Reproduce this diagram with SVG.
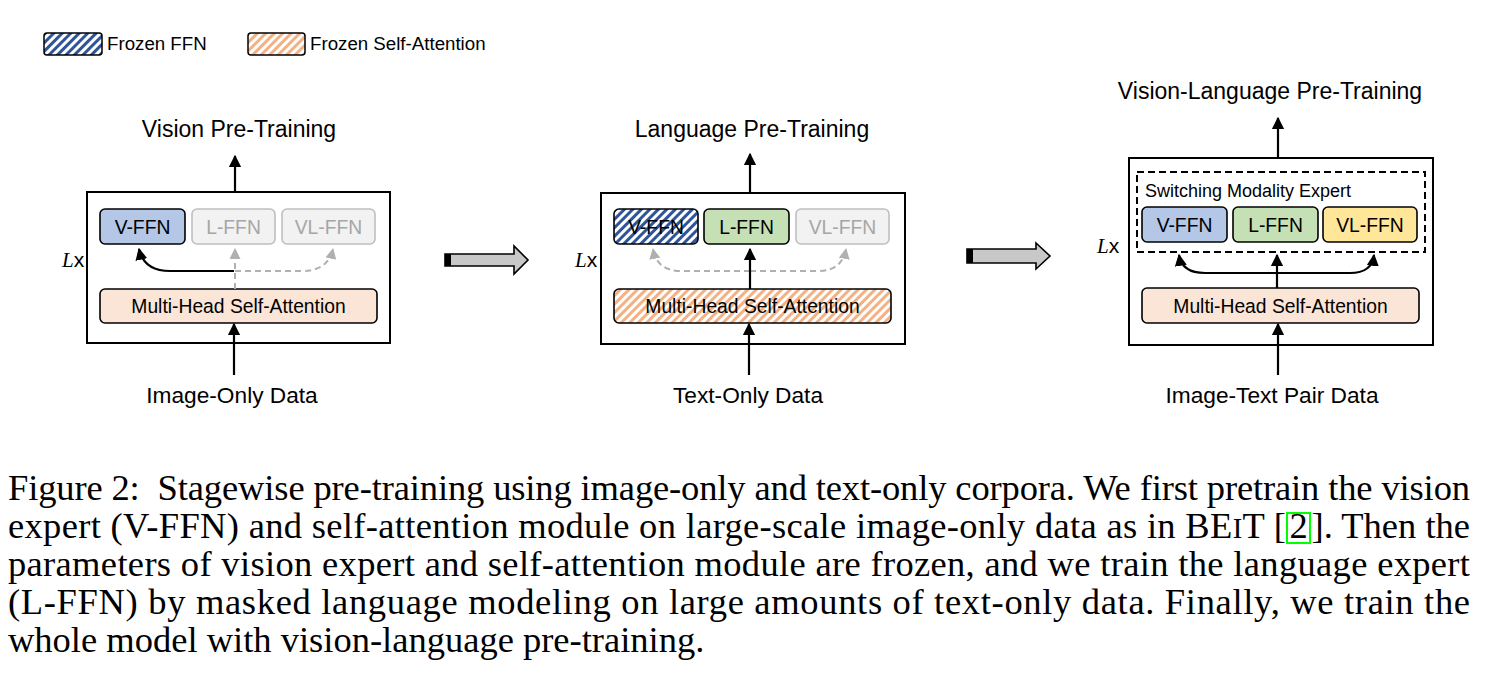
<svg xmlns="http://www.w3.org/2000/svg" width="1489" height="688" viewBox="0 0 1489 688">
<style>
.sans{font-family:"Liberation Sans",Arial,sans-serif}
.serif{font-family:"Liberation Serif","Times New Roman",serif}
.title{font-family:"Liberation Sans",Arial,sans-serif;font-size:23px;fill:#000;text-anchor:middle}
.data{font-family:"Liberation Sans",Arial,sans-serif;font-size:22.7px;fill:#000;text-anchor:middle}
.lbl{font-family:"Liberation Sans",Arial,sans-serif;font-size:19.3px;fill:#000;text-anchor:middle}
.glbl{font-family:"Liberation Sans",Arial,sans-serif;font-size:19.3px;fill:#a6a6a6;text-anchor:middle}
.outer{fill:#fff;stroke:#000;stroke-width:2}
.box{stroke:#000;stroke-width:1.6}
.gbox{fill:#f2f2f2;stroke:#bfbfbf;stroke-width:1.6}
.v{fill:#b4c7e7}.l{fill:#c5e0b4}.vl{fill:#ffe699}.att{fill:#fbe5d6}
.blk{fill:none;stroke:#000;stroke-width:2.2}
.gry{fill:none;stroke:#b0b0b0;stroke-width:2;stroke-dasharray:6,4}
.cap{font-family:"Liberation Serif","Times New Roman",serif;font-size:36.5px;fill:#000}
</style>
<defs>
<pattern id="hBlue" patternUnits="userSpaceOnUse" width="6" height="6" patternTransform="rotate(45)">
<rect width="6" height="6" fill="#fff"/><rect width="3" height="6" fill="#2f5597"/>
</pattern>
<pattern id="hOrange" patternUnits="userSpaceOnUse" width="6" height="6" patternTransform="rotate(45)">
<rect width="6" height="6" fill="#fff"/><rect width="3" height="6" fill="#f4b183"/>
</pattern>
<marker id="ab" viewBox="0 0 10 10" refX="9" refY="5" markerWidth="5.5" markerHeight="5.5" orient="auto" markerUnits="strokeWidth">
<path d="M0,0 L10,5 L0,10 z" fill="#000"/>
</marker>
<marker id="ag" viewBox="0 0 10 10" refX="9" refY="5" markerWidth="5.5" markerHeight="5.5" orient="auto" markerUnits="strokeWidth">
<path d="M0,0 L10,5 L0,10 z" fill="#b0b0b0"/>
</marker>
</defs>

<g id="legend">
<rect x="44" y="33" width="58" height="22" rx="3" fill="url(#hBlue)" stroke="#000" stroke-width="1.5"/>
<text x="107" y="50" class="sans" font-size="18.7">Frozen FFN</text>
<rect x="248" y="33" width="57" height="22" rx="3" fill="url(#hOrange)" stroke="#000" stroke-width="1.5"/>
<text x="310" y="50" class="sans" font-size="18.7">Frozen Self-Attention</text>
</g>

<!-- Panel 1 -->
<g id="panel1">
<text x="239" y="137" class="title">Vision Pre-Training</text>
<rect class="outer" x="87" y="192" width="303" height="151"/>
<text x="62" y="267" font-size="21"><tspan class="serif" font-style="italic">L</tspan><tspan class="sans">x</tspan></text>
<g id="p1-vffn"><rect class="box v" x="100" y="209" width="85" height="35" rx="5"/><text class="lbl" x="142.5" y="233.5">V-FFN</text></g>
<g id="p1-lffn"><rect class="gbox" x="192" y="209" width="83" height="35" rx="5"/><text class="glbl" x="233.5" y="233.5">L-FFN</text></g>
<g id="p1-vlffn"><rect class="gbox" x="282" y="209" width="93" height="35" rx="5"/><text class="glbl" x="328.5" y="233.5">VL-FFN</text></g>
<g id="p1-att"><rect class="box att" x="100" y="289" width="277" height="34" rx="5"/><text class="lbl" x="238.5" y="313">Multi-Head Self-Attention</text></g>
<text x="232" y="403" class="data">Image-Only Data</text>
</g>

<!-- Panel 2 -->
<g id="panel2">
<text x="752" y="137" class="title">Language Pre-Training</text>
<rect class="outer" x="601" y="193" width="304" height="151"/>
<text x="575" y="267" font-size="21"><tspan class="serif" font-style="italic">L</tspan><tspan class="sans">x</tspan></text>
<g id="p2-vffn"><rect class="box" fill="url(#hBlue)" x="614" y="209" width="84" height="35" rx="5"/><text class="lbl" x="656" y="233.5">V-FFN</text></g>
<g id="p2-lffn"><rect class="box l" x="704" y="209" width="85" height="35" rx="5"/><text class="lbl" x="746.5" y="233.5">L-FFN</text></g>
<g id="p2-vlffn"><rect class="gbox" x="796" y="209" width="93" height="35" rx="5"/><text class="glbl" x="842.5" y="233.5">VL-FFN</text></g>
<g id="p2-att"><rect class="box" fill="url(#hOrange)" x="614" y="289" width="277" height="34" rx="5"/><text class="lbl" x="752.5" y="313">Multi-Head Self-Attention</text></g>
<text x="748" y="403" class="data">Text-Only Data</text>
</g>

<!-- Panel 3 -->
<g id="panel3">
<text x="1270" y="99" class="title">Vision-Language Pre-Training</text>
<rect class="outer" x="1129" y="158" width="304" height="187"/>
<rect x="1137" y="172" width="288" height="80" fill="none" stroke="#000" stroke-width="2" stroke-dasharray="7,4"/>
<text x="1145" y="197" class="sans" font-size="18">Switching Modality Expert</text>
<text x="1097" y="253" font-size="21"><tspan class="serif" font-style="italic">L</tspan><tspan class="sans">x</tspan></text>
<g id="p3-vffn"><rect class="box v" x="1142" y="207" width="85" height="35" rx="5"/><text class="lbl" x="1184.5" y="231.5">V-FFN</text></g>
<g id="p3-lffn"><rect class="box l" x="1233" y="207" width="85" height="35" rx="5"/><text class="lbl" x="1275.5" y="231.5">L-FFN</text></g>
<g id="p3-vlffn"><rect class="box vl" x="1323" y="207" width="94" height="35" rx="5"/><text class="lbl" x="1370" y="231.5">VL-FFN</text></g>
<g id="p3-att"><rect class="box att" x="1142" y="288" width="277" height="35" rx="5"/><text class="lbl" x="1280.5" y="312.5">Multi-Head Self-Attention</text></g>
<text x="1272" y="403" class="data">Image-Text Pair Data</text>
</g>

<g id="connectors">
<!-- panel 1 -->
<path class="blk" d="M235,192 V156" marker-end="url(#ab)"/>
<path class="blk" d="M234,375 V324" marker-end="url(#ab)"/>
<path class="gry" d="M235,289 V249" marker-end="url(#ag)"/>
<path class="gry" d="M235,271 H302 Q328,271 333,249" marker-end="url(#ag)"/>
<path class="blk" d="M234,271 H170 Q144,271 139,249" marker-end="url(#ab)"/>
<!-- panel 2 -->
<path class="blk" d="M750,193 V154" marker-end="url(#ab)"/>
<path class="blk" d="M749,375 V324" marker-end="url(#ab)"/>
<path class="gry" d="M750,271 H681 Q657,271 653,249" marker-end="url(#ag)"/>
<path class="gry" d="M750,271 H818 Q842,271 846,249" marker-end="url(#ag)"/>
<path class="blk" d="M750,289 V249" marker-end="url(#ab)"/>
<!-- panel 3 -->
<path class="blk" d="M1278,158 V118" marker-end="url(#ab)"/>
<path class="blk" d="M1278,375 V324" marker-end="url(#ab)"/>
<path class="blk" d="M1277,288 V255" marker-end="url(#ab)"/>
<path class="blk" d="M1277,273 H1205 Q1182,273 1179,255" marker-end="url(#ab)"/>
<path class="blk" d="M1277,273 H1350 Q1372,273 1374,255" marker-end="url(#ab)"/>
<!-- stage arrows -->
<g id="stage-arrow-1">
<path d="M445,254 H514 V246 L528,260 L514,274 V266 H445 Z" fill="#c8c8c8" stroke="#000" stroke-width="1.6"/>
<rect x="445" y="254" width="6" height="12" fill="#000"/>
</g>
<g id="stage-arrow-2">
<path d="M967,249 H1036 V243 L1050,256 L1036,269 V263 H967 Z" fill="#c8c8c8" stroke="#000" stroke-width="1.6"/>
<rect x="967" y="249" width="6" height="14" fill="#000"/>
</g>
</g>

<g id="caption">
<text class="cap" x="8" y="500" textLength="1462" lengthAdjust="spacing" xml:space="preserve">Figure 2:  Stagewise pre-training using image-only and text-only corpora. We first pretrain the vision</text>
<text class="cap" x="8" y="538" textLength="1278" lengthAdjust="spacing">expert (V-FFN) and self-attention module on large-scale image-only data as in BE<tspan font-size="28.5">I</tspan>T [</text>
<rect x="1287" y="513" width="23" height="30" fill="none" stroke="#00ff00" stroke-width="2"/>
<text class="cap" x="1298.5" y="538" text-anchor="middle">2</text>
<text class="cap" x="1470" y="538" text-anchor="end">]. Then the</text>
<text class="cap" x="8" y="576" textLength="1462" lengthAdjust="spacing">parameters of vision expert and self-attention module are frozen, and we train the language expert</text>
<text class="cap" x="8" y="614" textLength="1462" lengthAdjust="spacing">(L-FFN) by masked language modeling on large amounts of text-only data. Finally, we train the</text>
<text class="cap" x="8" y="652">whole model with vision-language pre-training.</text>
</g>
</svg>
